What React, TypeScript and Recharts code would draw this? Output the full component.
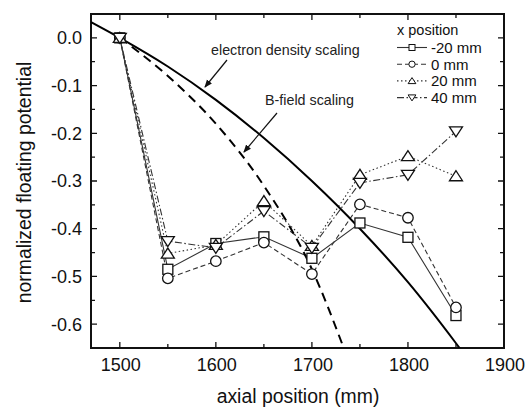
import { LineChart, Line, XAxis, YAxis, ReferenceArea, Legend } from 'recharts';

// measured points (axial position in mm)
const positions = [1500, 1550, 1600, 1650, 1700, 1750, 1800, 1850];
const minus20mm = [0, -0.485, -0.431, -0.417, -0.462, -0.388, -0.418, -0.582];
const zero0mm = [0, -0.504, -0.468, -0.429, -0.495, -0.349, -0.377, -0.565];
const plus20mm = [0, -0.452, -0.434, -0.342, -0.436, -0.287, -0.248, -0.29];
const plus40mm = [0, -0.426, -0.44, -0.363, -0.44, -0.304, -0.287, -0.196];

// model curves
const densityX = [1470, 1500, 1550, 1600, 1650, 1700, 1750, 1800, 1850, 1860];
const densityY = [0.033, 0, -0.06, -0.13, -0.21, -0.3, -0.4, -0.512, -0.64, -0.667];
const bfieldX = [1500, 1550, 1600, 1650, 1700, 1735];
const bfieldY = [0, -0.08, -0.18, -0.31, -0.485, -0.66];

const xDomain = [1470, 1900];
const yDomain = [-0.65, 0.05];
const xTicks = [1500, 1550, 1600, 1650, 1700, 1750, 1800, 1850, 1900];
const yTicks = [0, -0.05, -0.1, -0.15, -0.2, -0.25, -0.3, -0.35, -0.4, -0.45, -0.5, -0.55, -0.6];

const seriesNames = ['-20 mm', '0 mm', '20 mm', '40 mm'];

const table = positions.map((x, i) => ({
  x,
  m20: minus20mm[i],
  p0: zero0mm[i],
  p20: plus20mm[i],
  p40: plus40mm[i]
}));
const density = densityX.map((x, i) => ({ x, y: densityY[i] }));
const bfield = bfieldX.map((x, i) => ({ x, y: bfieldY[i] }));

const FONT = '"Liberation Sans", Arial, Helvetica, sans-serif';
const INK = '#111';
const W = 526;
const H = 407;
const TOP = 14;
const BOTTOM = 348;
const LEFT = 91;
const RIGHT = 504;

type Shape = 'square' | 'circle' | 'up' | 'down';

const series: { key: string; name: string; shape: Shape; dash?: string }[] = [
  { key: 'm20', name: seriesNames[0], shape: 'square' },
  { key: 'p0', name: seriesNames[1], shape: 'circle', dash: '5 3' },
  { key: 'p20', name: seriesNames[2], shape: 'up', dash: '1.5 2.5' },
  { key: 'p40', name: seriesNames[3], shape: 'down', dash: '7 2.5 1.5 2.5' }
];

function Marker({ shape, cx, cy, s, sw = 1.3 }: { shape: Shape; cx: number; cy: number; s: number; sw?: number }) {
  const common = { fill: '#fff', stroke: INK, strokeWidth: sw };
  if (shape === 'square') {
    return <rect x={cx - s} y={cy - s} width={2 * s} height={2 * s} {...common} />;
  }
  if (shape === 'circle') {
    return <circle cx={cx} cy={cy} r={s * 1.05} {...common} />;
  }
  if (shape === 'up') {
    const pts = `${cx},${cy - 1.1 * s} ${cx - 1.3 * s},${cy + 0.9 * s} ${cx + 1.3 * s},${cy + 0.9 * s}`;
    return <polygon points={pts} {...common} />;
  }
  const pts = `${cx},${cy + 1.1 * s} ${cx - 1.3 * s},${cy - 0.9 * s} ${cx + 1.3 * s},${cy - 0.9 * s}`;
  return <polygon points={pts} {...common} />;
}

const isMajorX = (v: number) => v % 100 === 0;
const isMajorY = (v: number) => Math.abs(Math.round(v * 100)) % 10 === 0;

function XTick(props: any) {
  const { x, y, payload } = props;
  const v = payload.value as number;
  if (!isMajorX(v)) return <g />;
  return (
    <text x={x + 1} y={y + 23} textAnchor="middle" fontSize={18} fontFamily={FONT} fill={INK}>
      {v}
    </text>
  );
}

function YTick(props: any) {
  const { x, y, payload } = props;
  const v = payload.value as number;
  if (!isMajorY(v)) return <g />;
  return (
    <text x={x - 9} y={y + 6.4} textAnchor="end" fontSize={18} fontFamily={FONT} fill={INK}>
      {v.toFixed(1)}
    </text>
  );
}

// inward tick marks on all four sides of the frame (same domain as the axes)
function FrameTicks() {
  const sx = (v: number) => LEFT + ((v - xDomain[0]) / (xDomain[1] - xDomain[0])) * (RIGHT - LEFT);
  const sy = (v: number) => TOP + ((yDomain[1] - v) / (yDomain[1] - yDomain[0])) * (BOTTOM - TOP);
  let d = '';
  xTicks.forEach((v) => {
    const len = isMajorX(v) ? 6 : 4;
    const px = sx(v);
    d += `M${px},${BOTTOM}V${BOTTOM - len}M${px},${TOP}V${TOP + len}`;
  });
  yTicks.forEach((v) => {
    const len = isMajorY(v) ? 6 : 4;
    const py = sy(v);
    d += `M${LEFT},${py}H${LEFT + len}M${RIGHT},${py}H${RIGHT - len}`;
  });
  return <path d={d} stroke={INK} strokeWidth={1.3} fill="none" />;
}

function LegendBox() {
  return (
    <svg width={130} height={100} style={{ overflow: 'visible', display: 'block' }}>
      <text x={7} y={20} fontSize={14.5} fontFamily={FONT} fill={INK}>
        x position
      </text>
      {series.map((s, i) => {
        const cy = 32.5 + i * 16.7;
        return (
          <g key={s.key}>
            <line x1={7} x2={37} y1={cy} y2={cy} stroke="#333" strokeWidth={1.1} strokeDasharray={s.dash} />
            <Marker shape={s.shape} cx={22} cy={cy} s={3} sw={1} />
            <text x={41} y={cy + 5.3} fontSize={15} fontFamily={FONT} fill={INK}>
              {s.name}
            </text>
          </g>
        );
      })}
    </svg>
  );
}

export default function App() {
  return (
    <div style={{ position: 'fixed', left: 0, top: 0, width: W, height: H, background: '#fff' }}>
      <LineChart width={W} height={H} data={table} margin={{ top: TOP, right: W - RIGHT, bottom: 0, left: 0 }}>
        <XAxis
          dataKey="x"
          type="number"
          domain={xDomain}
          allowDataOverflow
          ticks={xTicks}
          interval={0}
          height={H - BOTTOM}
          axisLine={false}
          tickLine={false}
          tickSize={0}
          tickMargin={0}
          tick={<XTick />}
        />
        <YAxis
          type="number"
          domain={yDomain}
          allowDataOverflow
          ticks={yTicks}
          interval={0}
          width={LEFT}
          axisLine={false}
          tickLine={false}
          tickSize={0}
          tickMargin={0}
          tick={<YTick />}
        />
        <ReferenceArea
          x1={xDomain[0]}
          x2={xDomain[1]}
          y1={yDomain[0]}
          y2={yDomain[1]}
          fill="none"
          fillOpacity={0}
          stroke={INK}
          strokeWidth={2}
          strokeOpacity={1}
          ifOverflow="visible"
        />
        {series.map((s) => (
          <Line
            key={s.key}
            dataKey={s.key}
            name={s.name}
            type="linear"
            stroke="#333"
            strokeWidth={1.1}
            strokeDasharray={s.dash}
            isAnimationActive={false}
            dot={(d: any) => <Marker key={`${s.key}-${d.index}`} shape={s.shape} cx={d.cx} cy={d.cy} s={5} />}
            activeDot={false}
          />
        ))}
        <Line
          data={density}
          dataKey="y"
          name="electron density scaling"
          type="monotone"
          stroke="#000"
          strokeWidth={2}
          dot={false}
          activeDot={false}
          isAnimationActive={false}
        />
        <Line
          data={bfield}
          dataKey="y"
          name="B-field scaling"
          type="monotone"
          stroke="#000"
          strokeWidth={2}
          strokeDasharray="9 6"
          dot={false}
          activeDot={false}
          isAnimationActive={false}
        />
        <Legend
          layout="horizontal"
          verticalAlign="middle"
          align="center"
          wrapperStyle={{ left: 390, top: 15, width: 130, height: 100 }}
          content={() => <LegendBox />}
        />
      </LineChart>
      <svg width={W} height={H} style={{ position: 'absolute', left: 0, top: 0, pointerEvents: 'none' }}>
        <defs>
          <marker id="arrowhead" markerWidth="8" markerHeight="8" refX="7" refY="4" orient="auto" markerUnits="userSpaceOnUse">
            <path d="M0,0.8 L8,4 L0,7.2 Z" fill={INK} />
          </marker>
        </defs>
        <FrameTicks />
        <text x={211} y={55} fontSize={14.3} fontFamily={FONT} fill="#222">
          electron density scaling
        </text>
        <line x1={227} y1={60} x2={205} y2={87} stroke={INK} strokeWidth={1.2} markerEnd="url(#arrowhead)" />
        <text x={265} y={105} fontSize={14.3} fontFamily={FONT} fill="#222">
          B-field scaling
        </text>
        <line x1={277} y1={113} x2={244} y2={152} stroke={INK} strokeWidth={1.2} markerEnd="url(#arrowhead)" />
        <text x={298} y={403} textAnchor="middle" fontSize={19.4} fontFamily={FONT} fill={INK}>
          axial position (mm)
        </text>
        <text
          x={31}
          y={182.5}
          textAnchor="middle"
          fontSize={19.4}
          fontFamily={FONT}
          fill={INK}
          transform="rotate(-90 31 182.5)"
        >
          normalized floating potential
        </text>
      </svg>
    </div>
  );
}
